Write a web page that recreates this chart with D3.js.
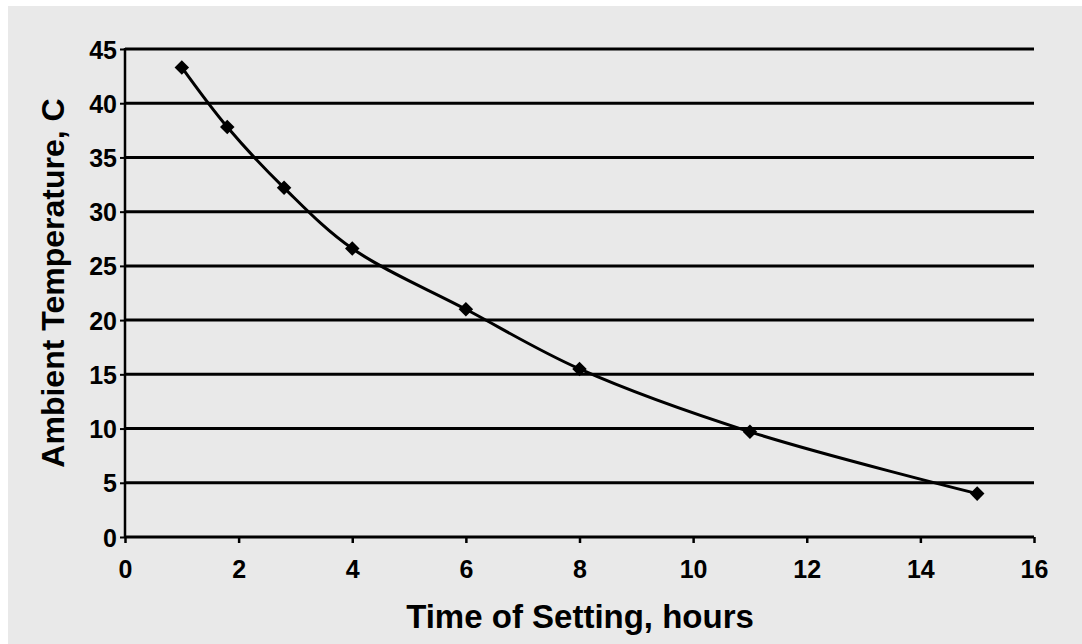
<!DOCTYPE html>
<html><head><meta charset="utf-8">
<script src="https://cdn.jsdelivr.net/npm/d3@7"></script>
<style>html,body{margin:0;padding:0;background:#fff;}svg{display:block;}</style>
</head><body>
<svg id="c" width="1082" height="644"></svg>
<script>
const hours = [1, 1.8, 2.8, 4, 6, 8, 11, 15];
const temps = [43.3, 37.8, 32.2, 26.6, 21.0, 15.5, 9.7, 4.0];
const xTicks = [0, 2, 4, 6, 8, 10, 12, 14, 16];
const yTicks = [0, 5, 10, 15, 20, 25, 30, 35, 40, 45];
const xTitle = "Time of Setting, hours";
const yTitle = "Ambient Temperature, C";

const svg = d3.select("#c");
svg.append("rect").attr("x", 8).attr("y", 6).attr("width", 1074).attr("height", 638).attr("fill", "#e9e9e9");

const x = d3.scaleLinear().domain([0, 16]).range([125, 1034]);
const y = d3.scaleLinear().domain([0, 45]).range([537, 49]);
const font = "'Liberation Sans', Arial, sans-serif";

// gridlines
svg.append("g").selectAll("line").data(yTicks.filter(d => d > 0)).join("line")
  .attr("x1", x(0)).attr("x2", x(16)).attr("y1", d => y(d)).attr("y2", d => y(d))
  .attr("stroke", "#000").attr("stroke-width", 3);

// y axis
const ya = svg.append("g").attr("transform", `translate(${x(0)},0)`)
  .call(d3.axisLeft(y).tickValues(yTicks).tickSize(5).tickPadding(3));
ya.select(".domain").attr("stroke-width", 2.5).attr("d", `M0,${y(45)-1}V${y(0)}`);
ya.selectAll(".tick line").attr("stroke-width", 2);
ya.selectAll("text").attr("font-family", font).attr("font-weight", "bold").attr("font-size", 25).attr("fill", "#000")
  .attr("dy", "0.36em");

// x axis
const xa = svg.append("g").attr("transform", `translate(0,${y(0)})`)
  .call(d3.axisBottom(x).tickValues(xTicks).tickSize(6));
xa.select(".domain").attr("stroke-width", 3).attr("d", `M${x(0)},0H${x(16)}`);
xa.selectAll(".tick line").attr("stroke-width", 2.5);
xa.selectAll("text").attr("font-family", font).attr("font-weight", "bold").attr("font-size", 25).attr("fill", "#000")
  .attr("dy", null).attr("y", 41);

// line
const pts = hours.map((h, i) => [h, temps[i]]);
svg.append("path").datum(pts)
  .attr("d", d3.line().x(d => x(d[0])).y(d => y(d[1])).curve(d3.curveCatmullRom))
  .attr("fill", "none").attr("stroke", "#000").attr("stroke-width", 3);

// markers
svg.append("g").selectAll("path").data(pts).join("path")
  .attr("transform", d => `translate(${x(d[0])},${y(d[1])})`)
  .attr("d", d3.symbol(d3.symbolDiamond2, 135))
  .attr("fill", "#000");

// titles
svg.append("text").attr("x", 580).attr("y", 628).attr("text-anchor", "middle")
  .attr("font-family", font).attr("font-weight", "bold").attr("font-size", 33).text(xTitle);
svg.append("text").attr("transform", "translate(64,283) rotate(-90)").attr("text-anchor", "middle")
  .attr("font-family", font).attr("font-weight", "bold").attr("font-size", 32).text(yTitle);
</script>
</body></html>
